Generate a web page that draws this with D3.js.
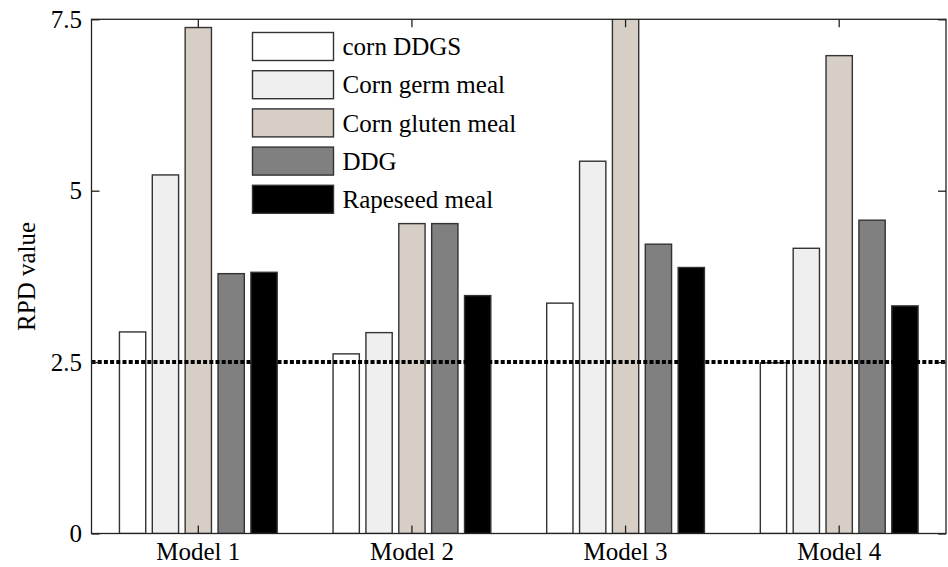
<!DOCTYPE html>
<html>
<head>
<meta charset="utf-8">
<script src="https://cdn.jsdelivr.net/npm/d3@7"></script>
<style>
  html, body { margin: 0; padding: 0; background: #fff; }
  svg { display: block; font-family: "Liberation Serif", "DejaVu Serif", serif; }
</style>
</head>
<body>
<svg id="chart" width="948" height="567"></svg>
<script>
// RPD values per model for each feed material
const models = ["Model 1", "Model 2", "Model 3", "Model 4"];
const materials = ["corn DDGS", "Corn germ meal", "Corn gluten meal", "DDG", "Rapeseed meal"];
const cornDDGS       = [2.94, 2.62, 3.36, 2.49];
const cornGermMeal   = [5.23, 2.93, 5.43, 4.16];
const cornGlutenMeal = [7.38, 4.52, 8.00, 6.97];
const ddg            = [3.79, 4.52, 4.22, 4.57];
const rapeseedMeal   = [3.81, 3.47, 3.88, 3.32];
const yTicks = [0, 2.5, 5, 7.5];
const threshold = 2.5;
const colors = ["#ffffff", "#efefef", "#d7cfc6", "#808080", "#000000"];

const seriesValues = [cornDDGS, cornGermMeal, cornGlutenMeal, ddg, rapeseedMeal];
const FONT = 25;

const svg = d3.select("#chart");
const margin = { left: 91.5, right: 2, top: 19.3, bottom: 33.5 };
const W = 948, H = 567;
const x0 = margin.left, x1 = W - margin.right;
const yTop = margin.top, yBot = H - margin.bottom;

const x = d3.scaleBand().domain(models).range([x0, x1]).padding(0);
const groupWidth = x.bandwidth() * Math.min(0.8, 5 / 6.5);
const xs = d3.scaleBand().domain(d3.range(materials.length)).range([-groupWidth / 2, groupWidth / 2]).paddingInner(0.2).paddingOuter(0.1);
const y = d3.scaleLinear().domain([0, 7.5]).range([yBot, yTop]);

svg.append("defs").append("clipPath").attr("id", "plotClip")
  .append("rect").attr("x", x0).attr("y", yTop).attr("width", x1 - x0).attr("height", yBot - yTop);

const plot = svg.append("g").attr("clip-path", "url(#plotClip)");

// bars
materials.forEach((m, si) => {
  plot.append("g").selectAll("rect")
    .data(models.map((mod, i) => ({ model: mod, v: seriesValues[si][i] })))
    .join("rect")
    .attr("x", d => x(d.model) + x.bandwidth() / 2 + xs(si))
    .attr("width", xs.bandwidth())
    .attr("y", d => y(d.v))
    .attr("height", d => y(0) - y(d.v))
    .attr("fill", colors[si])
    .attr("stroke", "#333")
    .attr("stroke-width", 1.4);
});

// RPD threshold line
plot.append("line")
  .attr("x1", x0).attr("x2", x1)
  .attr("y1", y(threshold)).attr("y2", y(threshold))
  .attr("stroke", "#000").attr("stroke-width", 4)
  .attr("stroke-dasharray", "4,2.2");

// axes box
const axisColor = "#222";
svg.append("rect").attr("x", x0).attr("y", yTop).attr("width", x1 - x0).attr("height", yBot - yTop)
  .attr("fill", "none").attr("stroke", axisColor).attr("stroke-width", 1.3);

const leftAxis = d3.axisLeft(y).tickValues(yTicks).tickSizeInner(-8).tickSizeOuter(0).tickPadding(9.5)
  .tickFormat(d => d3.format("")(d));
const gl = svg.append("g").attr("transform", `translate(${x0},0)`).call(leftAxis);
gl.select(".domain").remove();
gl.selectAll("line").attr("stroke", axisColor).attr("stroke-width", 1.3);
gl.selectAll("text").attr("font-size", FONT).attr("font-family", "Liberation Serif, serif").attr("fill", "#000");

const rightAxis = d3.axisRight(y).tickValues(yTicks).tickSizeInner(-8).tickSizeOuter(0).tickFormat("");
const gr = svg.append("g").attr("transform", `translate(${x1},0)`).call(rightAxis);
gr.select(".domain").remove();
gr.selectAll("line").attr("stroke", axisColor).attr("stroke-width", 1.3);

const bottomAxis = d3.axisBottom(x).tickSizeInner(-8).tickSizeOuter(0).tickPadding(9);
const gb = svg.append("g").attr("transform", `translate(0,${yBot})`).call(bottomAxis);
gb.select(".domain").remove();
gb.selectAll("line").attr("stroke", axisColor).attr("stroke-width", 1.3);
gb.selectAll("text").attr("font-size", FONT).attr("font-family", "Liberation Serif, serif").attr("fill", "#000");

const topAxis = d3.axisTop(x).tickSizeInner(-8).tickSizeOuter(0).tickFormat("");
const gt = svg.append("g").attr("transform", `translate(0,${yTop})`).call(topAxis);
gt.select(".domain").remove();
gt.selectAll("line").attr("stroke", axisColor).attr("stroke-width", 1.3);

// y axis title
svg.append("text")
  .attr("transform", `translate(35,${(yTop + yBot) / 2}) rotate(-90)`)
  .attr("text-anchor", "middle")
  .attr("font-size", FONT)
  .attr("fill", "#000")
  .text("RPD value");

// legend
const legend = svg.append("g").attr("transform", "translate(252.5,32.5)");
const rowH = 38.2;
materials.forEach((m, i) => {
  const row = legend.append("g").attr("transform", `translate(0,${i * rowH})`);
  row.append("rect").attr("width", 81).attr("height", 28)
    .attr("fill", colors[i]).attr("stroke", "#333").attr("stroke-width", 1.4);
  row.append("text").attr("x", 90).attr("y", 14).attr("dy", "0.35em")
    .attr("font-size", FONT).attr("fill", "#000").text(m);
});
</script>
</body>
</html>
